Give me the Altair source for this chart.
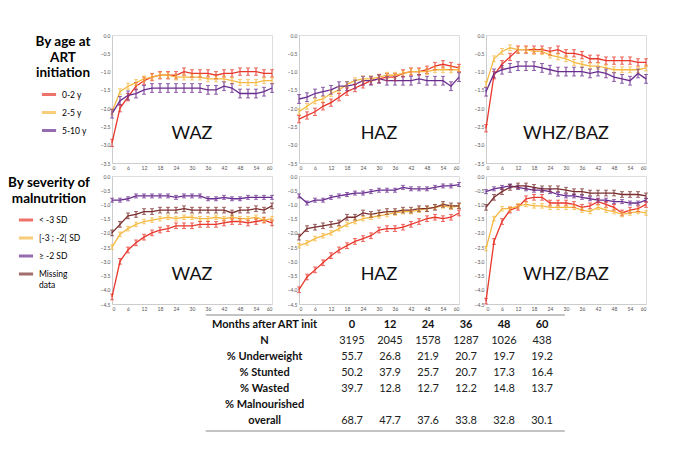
import pandas as pd
import altair as alt

months = list(range(0, 61, 3))

# By age at ART initiation
age_groups = ['0-2 y', '2-5 y', '5-10 y']
age_colors = ['#e8372c', '#f5b942', '#6a2d8f']
waz_age = [
    [-2.95, -2.0, -1.7, -1.4, -1.25, -1.15, -1.1, -1.1, -1.1, -1.0, -1.05, -1.05, -1.05, -1.1, -1.05, -1.05, -1.0, -1.0, -1.0, -1.05, -1.05],
    [-2.1, -1.55, -1.4, -1.3, -1.2, -1.15, -1.1, -1.1, -1.15, -1.15, -1.15, -1.15, -1.2, -1.2, -1.2, -1.25, -1.3, -1.3, -1.3, -1.25, -1.25],
    [-2.15, -1.8, -1.65, -1.6, -1.5, -1.45, -1.45, -1.45, -1.45, -1.45, -1.45, -1.45, -1.5, -1.5, -1.4, -1.45, -1.6, -1.6, -1.6, -1.55, -1.45],
]
haz_age = [
    [-2.3, -2.2, -2.1, -1.95, -1.85, -1.7, -1.55, -1.45, -1.35, -1.25, -1.2, -1.15, -1.15, -1.05, -1.0, -1.0, -0.95, -0.85, -0.8, -0.85, -0.9],
    [-2.1, -1.95, -1.8, -1.75, -1.6, -1.5, -1.35, -1.25, -1.2, -1.2, -1.15, -1.1, -1.1, -1.05, -1.0, -1.0, -1.0, -0.95, -0.95, -0.95, -0.95],
    [-1.75, -1.7, -1.6, -1.55, -1.5, -1.4, -1.4, -1.35, -1.25, -1.25, -1.2, -1.25, -1.25, -1.25, -1.25, -1.2, -1.25, -1.25, -1.25, -1.4, -1.15],
]
whz_age = [
    [-2.55, -1.1, -0.8, -0.6, -0.4, -0.4, -0.4, -0.4, -0.45, -0.4, -0.5, -0.5, -0.55, -0.65, -0.65, -0.7, -0.7, -0.7, -0.7, -0.75, -0.75],
    [-1.35, -0.65, -0.45, -0.35, -0.4, -0.4, -0.45, -0.45, -0.55, -0.6, -0.65, -0.75, -0.8, -0.85, -0.85, -0.9, -0.95, -0.95, -0.95, -0.95, -0.9],
    [-1.55, -1.05, -0.95, -0.9, -0.85, -0.85, -0.85, -0.9, -0.95, -1.0, -1.0, -1.0, -1.0, -1.05, -1.0, -1.05, -1.15, -1.2, -1.25, -1.05, -1.2],
]
err_age = [0.1, 0.08, 0.12]

# By severity of malnutrition
sev_groups = ['< -3 SD', '[-3 ; -2[ SD', '≥ -2 SD', 'Missing data']
sev_colors = ['#e8372c', '#f5b942', '#6a2d8f', '#7a2e2e']
waz_sev = [
    [-4.25, -3.0, -2.6, -2.35, -2.15, -2.0, -1.9, -1.85, -1.75, -1.75, -1.75, -1.7, -1.7, -1.7, -1.65, -1.6, -1.6, -1.65, -1.6, -1.55, -1.65],
    [-2.5, -2.05, -1.85, -1.7, -1.6, -1.55, -1.5, -1.45, -1.5, -1.45, -1.45, -1.5, -1.5, -1.45, -1.5, -1.45, -1.5, -1.5, -1.45, -1.55, -1.5],
    [-0.85, -0.85, -0.8, -0.7, -0.7, -0.7, -0.7, -0.7, -0.75, -0.7, -0.7, -0.7, -0.8, -0.8, -0.75, -0.8, -0.8, -0.75, -0.75, -0.75, -0.75],
    [-2.0, -1.7, -1.4, -1.35, -1.25, -1.25, -1.2, -1.2, -1.2, -1.15, -1.2, -1.2, -1.2, -1.2, -1.2, -1.3, -1.2, -1.2, -1.15, -1.2, -1.05],
]
haz_sev = [
    [-4.0, -3.55, -3.3, -3.05, -2.8, -2.6, -2.45, -2.3, -2.2, -2.1, -1.9, -1.85, -1.85, -1.8, -1.7, -1.6, -1.5, -1.45, -1.5, -1.45, -1.3],
    [-2.45, -2.35, -2.2, -2.1, -2.0, -1.85, -1.7, -1.6, -1.5, -1.45, -1.4, -1.35, -1.3, -1.25, -1.25, -1.2, -1.15, -1.1, -1.05, -1.1, -1.05],
    [-0.7, -0.95, -0.85, -0.85, -0.75, -0.7, -0.65, -0.6, -0.6, -0.55, -0.5, -0.5, -0.5, -0.4, -0.45, -0.45, -0.45, -0.4, -0.35, -0.35, -0.3],
    [-2.15, -1.85, -1.8, -1.75, -1.7, -1.65, -1.45, -1.45, -1.3, -1.35, -1.3, -1.25, -1.25, -1.2, -1.2, -1.15, -1.15, -1.1, -1.0, -1.05, -1.05],
]
whz_sev = [
    [-4.4, -2.3, -1.6, -1.2, -1.1, -0.8, -0.75, -0.75, -0.95, -0.95, -0.95, -1.0, -1.1, -1.05, -0.9, -1.0, -1.1, -1.3, -1.2, -1.15, -1.0],
    [-2.55, -1.5, -1.15, -1.15, -1.05, -1.0, -1.05, -1.05, -1.1, -1.1, -1.1, -1.1, -1.2, -1.25, -1.1, -1.2, -1.25, -1.35, -1.3, -1.25, -1.3],
    [-0.55, -0.45, -0.4, -0.35, -0.4, -0.45, -0.5, -0.5, -0.55, -0.65, -0.7, -0.7, -0.75, -0.8, -0.85, -0.85, -0.9, -0.9, -0.95, -0.95, -0.85],
    [-1.1, -0.75, -0.55, -0.4, -0.35, -0.35, -0.4, -0.45, -0.45, -0.45, -0.5, -0.55, -0.55, -0.6, -0.6, -0.6, -0.6, -0.65, -0.65, -0.65, -0.7],
]
err_sev = [0.1, 0.08, 0.07, 0.1]

# Table
table_cols = ['0', '12', '24', '36', '48', '60']
table_rows = ['N', '% Underweight', '% Stunted', '% Wasted', 'overall']
table_vals = [
    ['3195', '2045', '1578', '1287', '1026', '438'],
    ['55.7', '26.8', '21.9', '20.7', '19.7', '19.2'],
    ['50.2', '37.9', '25.7', '20.7', '17.3', '16.4'],
    ['39.7', '12.8', '12.7', '12.2', '14.8', '13.7'],
    ['68.7', '47.7', '37.6', '33.8', '32.8', '30.1'],
]

FONT = 'Lato'
PW, PH = 160, 128


def panel(series, groups, colors, errs, label, ymin, legend):
    rows = []
    for g, vals, e in zip(groups, series, errs):
        for m, v in zip(months, vals):
            rows.append({'month': m, 'z': v, 'lo': v - e, 'hi': v + e, 'group': g})
    df = pd.DataFrame(rows)
    ax = dict(title=None, labelOverlap=False, labelFontSize=5, labelColor='#555',
              labelFont=FONT, grid=False, ticks=False, domainColor='#ccc', labelPadding=2)
    xscale = alt.Scale(domain=[0, 60], nice=False)
    xaxis = alt.Axis(values=list(range(0, 61, 6)), **ax)
    yscale = alt.Scale(domain=[ymin, 0], nice=False)
    yaxis = alt.Axis(values=[v / 2 for v in range(int(ymin * 2), 1)], format='.1f', **ax)
    color = alt.Color('group:N', scale=alt.Scale(domain=groups, range=colors),
                      sort=groups, legend=legend)
    base = alt.Chart(df)
    lines = base.mark_line(strokeWidth=1.3).encode(
        x=alt.X('month:Q', scale=xscale, axis=xaxis),
        y=alt.Y('z:Q', scale=yscale, axis=yaxis), color=color)
    bars = base.mark_errorbar(ticks=alt.TickConfig(size=4)).encode(
        x=alt.X('month:Q', scale=xscale, axis=xaxis),
        y=alt.Y('lo:Q', scale=yscale, axis=yaxis), y2='hi:Q', color=color)
    txt = alt.Chart(pd.DataFrame({'t': [label], 'x': [30], 'y': [ymin * 0.77]})).mark_text(
        font=FONT, fontSize=18, color='#111').encode(
        text='t:N',
        x=alt.X('x:Q', scale=xscale, axis=xaxis),
        y=alt.Y('y:Q', scale=yscale, axis=yaxis))
    return alt.layer(lines, bars, txt).properties(width=PW, height=PH)


leg_common = dict(orient='left', symbolType='stroke', symbolStrokeWidth=3, symbolSize=200,
                  labelFontSize=8.5, labelFont=FONT, titleFont=FONT, titleFontSize=13.5,
                  titleFontWeight='bold', titleAlign='center', titleAnchor='middle',
                  titleLimit=200, labelLimit=100, offset=8, padding=0, rowPadding=3,
                  titlePadding=6)
leg_age = alt.Legend(title=['By age at', 'ART', 'initiation'], **leg_common)
leg_sev = alt.Legend(title=['By severity of', 'malnutrition'],
                     labelExpr="datum.label == 'Missing data' ? ['Missing', 'data'] : datum.label",
                     **leg_common)

top = alt.hconcat(
    panel(waz_age, age_groups, age_colors, err_age, 'WAZ', -3.5, leg_age),
    panel(haz_age, age_groups, age_colors, err_age, 'HAZ', -3.5, leg_age),
    panel(whz_age, age_groups, age_colors, err_age, 'WHZ/BAZ', -3.5, leg_age),
    spacing=10)
bottom = alt.hconcat(
    panel(waz_sev, sev_groups, sev_colors, err_sev, 'WAZ', -4.5, leg_sev),
    panel(haz_sev, sev_groups, sev_colors, err_sev, 'HAZ', -4.5, leg_sev),
    panel(whz_sev, sev_groups, sev_colors, err_sev, 'WHZ/BAZ', -4.5, leg_sev),
    spacing=10)

# table as text marks; columns are indexed (label column sits left of the value columns)
col_index = {'label': -2.3, '0': 0, '12': 1, '24': 2, '36': 3, '48': 4, '60': 5}
cells = [{'col': 'label', 'row': 0, 't': 'Months after ART init', 'bold': True}]
for c in table_cols:
    cells.append({'col': c, 'row': 0, 't': c, 'bold': True})
for i, (r, vals) in enumerate(zip(table_rows, table_vals)):
    ri = i + 1 if i < 4 else 6
    cells.append({'col': 'label', 'row': ri, 't': r, 'bold': True})
    for c, v in zip(table_cols, vals):
        cells.append({'col': c, 'row': ri, 't': v, 'bold': False})
cells.append({'col': 'label', 'row': 5, 't': '% Malnourished', 'bold': True})
tdf = pd.DataFrame(cells)
tdf['ci'] = tdf['col'].map(col_index)

TW = 520
X0 = 240
xs = alt.Scale(domain=[-X0 / 38, (TW - X0) / 38], nice=False, zero=False)
tx = alt.X('ci:Q', scale=xs, axis=None)
ys = alt.Scale(domain=[-0.6, 6.6], nice=False, reverse=True, zero=False)
ty = alt.Y('row:Q', scale=ys, axis=None)
tbase = alt.Chart(tdf)
tbold = tbase.transform_filter('datum.bold').mark_text(
    font=FONT, fontSize=11, fontWeight='bold', color='#111').encode(x=tx, y=ty, text='t:N')
tplain = tbase.transform_filter('!datum.bold').mark_text(
    font=FONT, fontSize=11, color='#222').encode(x=tx, y=ty, text='t:N')
edges = pd.DataFrame({'r': [-0.6, 6.6], 'a': [-3.85, -3.85], 'b': [5.6, 5.6]})
border = alt.Chart(edges).mark_rule(color='#888', strokeWidth=1).encode(
    y=alt.Y('r:Q', scale=ys, axis=None), x=alt.X('a:Q', scale=xs, axis=None), x2='b:Q')
table = alt.layer(border, tbold, tplain).properties(
    width=TW, height=116, view=alt.ViewConfig(stroke=None))

chart = alt.vconcat(top, bottom, table, spacing=2).resolve_scale(
    color='independent', y='independent', x='independent'
).properties(padding={'top': 24, 'left': 0, 'right': 0, 'bottom': 0}).configure_view(
    stroke='#ddd').configure(background='white')

chart.save("out.html", embed_options={"renderer": "svg", "actions": False})
